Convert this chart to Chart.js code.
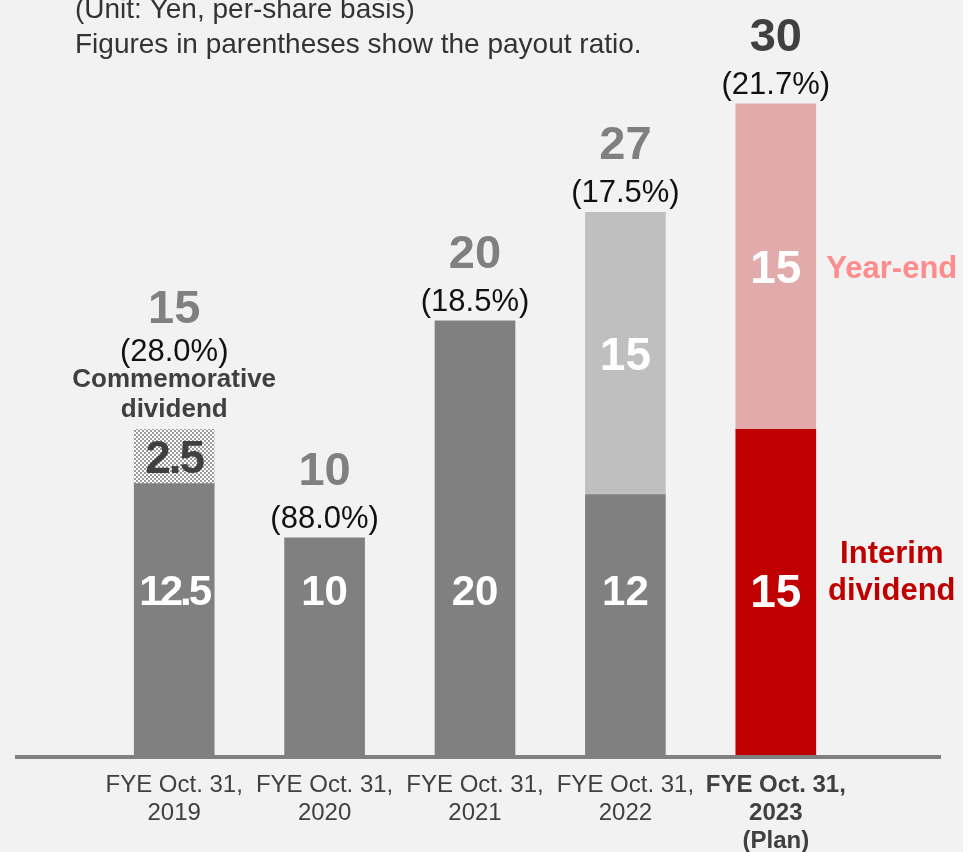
<!DOCTYPE html>
<html>
<head>
<meta charset="utf-8">
<script src="https://cdn.jsdelivr.net/npm/chart.js@4/dist/chart.umd.min.js"></script>
<style>
html,body{margin:0;padding:0;background:#ffffff;}
canvas{display:block;}
</style>
</head>
<body>
<canvas id="c" width="974" height="852" style="width:974px;height:852px"></canvas>
<script>
// ---- data ----
const categories = [
  ["FYE Oct. 31,", "2019"],
  ["FYE Oct. 31,", "2020"],
  ["FYE Oct. 31,", "2021"],
  ["FYE Oct. 31,", "2022"],
  ["FYE Oct. 31,", "2023", "(Plan)"]
];
const lowerSegment = [12.5, 10, 20, 12, 15];          // ordinary / interim dividend
const commemorative = [2.5, null, null, null, null];  // commemorative dividend
const yearEnd = [null, null, null, 13, 15];           // year-end dividend (bar height as drawn)
const lowerLabels = ["12.5", "10", "20", "12", "15"];
const commemorativeLabels = ["2.5", null, null, null, null];
const yearEndLabels = [null, null, null, "15", "15"];
const totalLabels = ["15", "10", "20", "27", "30"];
const payoutRatios = ["(28.0%)", "(88.0%)", "(18.5%)", "(17.5%)", "(21.7%)"];
const titleLines = ["(Unit: Yen, per-share basis)", "Figures in parentheses show the payout ratio."];
const yAxisMin = 0;
const yAxisMax = 34;

// ---- styles ----
const FONT = "'Liberation Sans', Arial, Helvetica, sans-serif";
const GRAY = "#808080";
const LIGHT_GRAY = "#bfbfbf";
const RED = "#c00000";
const PINK = "#e2aaaa";
const DARK = "#404040";

const canvas = document.getElementById("c");
const ctx = canvas.getContext("2d");

// checker pattern for commemorative dividend
const pc = document.createElement("canvas");
pc.width = 4; pc.height = 4;
const pctx = pc.getContext("2d");
pctx.fillStyle = "#ffffff"; pctx.fillRect(0, 0, 4, 4);
pctx.fillStyle = "#9a9a9a"; pctx.fillRect(0, 0, 2, 2); pctx.fillRect(2, 2, 2, 2);
const checker = ctx.createPattern(pc, "repeat");

const bgPlugin = {
  id: "bg",
  beforeDraw(chart) {
    const c = chart.ctx;
    c.save();
    c.fillStyle = "#f2f2f2";
    c.fillRect(0, 0, 963, chart.height);
    c.restore();
  }
};

function txt(c, s, x, y, font, color, align, spacing) {
  c.font = font;
  c.fillStyle = color;
  c.textAlign = align || "center";
  c.textBaseline = "alphabetic";
  if ("letterSpacing" in c) c.letterSpacing = spacing || "0px";
  c.fillText(s, x, y);
  if ("letterSpacing" in c) c.letterSpacing = "0px";
}

const labelPlugin = {
  id: "labels",
  afterDatasetsDraw(chart) {
    const c = chart.ctx;
    const xs = chart.scales.x, ys = chart.scales.y;
    c.save();
    // base line
    const y0 = ys.getPixelForValue(0);
    c.fillStyle = GRAY;
    c.fillRect(15, y0, 926, 4);

    // title
    txt(c, titleLines[0], 75, 18, "28px " + FONT, "#333333", "left");
    txt(c, titleLines[1], 75, 53, "28px " + FONT, "#333333", "left");

    const lowerY = ys.getPixelForValue(7.6);
    for (let i = 0; i < categories.length; i++) {
      const cx = xs.getPixelForValue(i);
      const lo = lowerSegment[i] || 0;
      const cm = commemorative[i] || 0;
      const ye = yearEnd[i] || 0;
      const topPx = ys.getPixelForValue(lo + cm + ye);

      // inside labels
      if (lowerLabels[i]) {
        const fs = lowerLabels[i] === "15" ? 46 : 42;
        const sp = lowerLabels[i].length > 2 ? "-3px" : "0px";
        txt(c, lowerLabels[i], cx, lowerY + 0.36 * fs, "bold " + fs + "px " + FONT, "#ffffff", "center", sp);
      }
      if (commemorativeLabels[i]) {
        const cy = ys.getPixelForValue(lo + cm / 2);
        txt(c, commemorativeLabels[i], cx, cy + 0.36 * 46, "bold 46px " + FONT, DARK, "center", "-2px");
      }
      if (yearEndLabels[i]) {
        const cy = ys.getPixelForValue(lo + cm + ye / 2);
        txt(c, yearEndLabels[i], cx, cy + 0.36 * 46, "bold 46px " + FONT, "#ffffff");
      }

      // totals and payout ratio
      const totalColor = i === categories.length - 1 ? DARK : GRAY;
      if (commemorativeLabels[i]) {
        txt(c, "dividend", cx, topPx - 12, "bold 26px " + FONT, DARK);
        txt(c, "Commemorative", cx, topPx - 42, "bold 26px " + FONT, DARK);
        txt(c, payoutRatios[i], cx, topPx - 68, "31px " + FONT, "#111111");
        txt(c, totalLabels[i], cx, topPx - 106, "bold 47px " + FONT, totalColor);
      } else {
        txt(c, payoutRatios[i], cx, topPx - 10, "31px " + FONT, "#111111");
        txt(c, totalLabels[i], cx, topPx - 53, "bold 47px " + FONT, totalColor);
      }
    }

    // side annotations for the plan year
    const last = categories.length - 1;
    const lx = xs.getPixelForValue(last) + 116;
    const yeMid = ys.getPixelForValue(lowerSegment[last] + yearEnd[last] / 2);
    txt(c, "Year-end", lx, yeMid + 0.36 * 31, "bold 31px " + FONT, "#ff8c8c");
    txt(c, "Interim", lx, lowerY - 27, "bold 31px " + FONT, RED);
    txt(c, "dividend", lx, lowerY + 10, "bold 31px " + FONT, RED);
    c.restore();
  }
};

new Chart(canvas, {
  type: "bar",
  data: {
    labels: categories,
    datasets: [
      {
        label: "Interim / ordinary dividend",
        data: lowerSegment,
        backgroundColor: [GRAY, GRAY, GRAY, GRAY, RED],
        borderWidth: 0,
        barThickness: 80
      },
      {
        label: "Commemorative dividend",
        data: commemorative,
        backgroundColor: checker,
        borderWidth: 0,
        barThickness: 80
      },
      {
        label: "Year-end dividend",
        data: yearEnd,
        backgroundColor: [LIGHT_GRAY, LIGHT_GRAY, LIGHT_GRAY, LIGHT_GRAY, PINK],
        borderWidth: 0,
        barThickness: 80
      }
    ]
  },
  options: {
    responsive: false,
    animation: false,
    events: [],
    layout: { padding: { top: 17, left: 99, right: 123, bottom: 0 } },
    plugins: { legend: { display: false }, tooltip: { enabled: false }, title: { display: false } },
    scales: {
      x: {
        stacked: true,
        grid: { display: false, drawTicks: false },
        border: { display: false },
        ticks: {
          padding: 16,
          maxRotation: 0,
          autoSkip: false,
          color: DARK,
          font: (context) => ({
            family: FONT,
            size: 24,
            weight: context.index === categories.length - 1 ? "bold" : "normal",
            lineHeight: "28px"
          })
        },
        afterFit: (scale) => { scale.height = 97; }
      },
      y: {
        stacked: true,
        display: false,
        min: yAxisMin,
        max: yAxisMax
      }
    }
  },
  plugins: [bgPlugin, labelPlugin]
});
</script>
</body>
</html>
